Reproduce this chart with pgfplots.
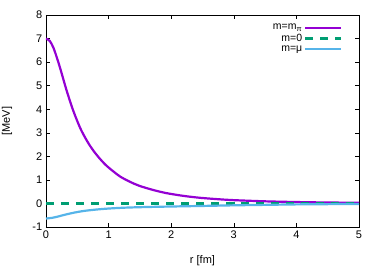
\documentclass[border=0pt]{standalone}
\usepackage{fontspec}
\setmainfont{Liberation Sans}
\usepackage{pgfplots}
\pgfplotsset{compat=1.18}
\definecolor{gpurple}{HTML}{9400D3}
\definecolor{ggreen}{HTML}{009E73}
\definecolor{gblue}{HTML}{56B4E9}
\begin{document}
\fontsize{11bp}{13bp}\selectfont
\begin{tikzpicture}
\useasboundingbox (-46bp,-40bp) rectangle (336bp,227bp);
\begin{axis}[
  scale only axis,
  width=313bp, height=212bp,
  xmin=0, xmax=5, ymin=-1, ymax=8,
  xtick={0,1,2,3,4,5}, ytick={-1,0,...,8},
  tick align=inside,
  tick style={black, thin},
  major tick length=4bp,
  axis line style={black, thin},
  /pgf/number format/assume math mode=true,
  ticklabel style={font=\fontsize{11bp}{13bp}\selectfont},
  xlabel={r [fm]}, ylabel={[MeV]},
  xlabel style={at={(axis description cs:0.5,0)}, anchor=north, yshift=-25bp},
  ylabel style={at={(axis description cs:0,0.5)}, anchor=south, yshift=30bp},
  legend style={draw=none, fill=none, at={(rel axis cs:1,1)}, anchor=north east,
    xshift=-14bp, yshift=-5bp, font=\fontsize{10.5bp}{12bp}\selectfont,
    row sep=-1.5bp},
  legend cell align=right,
  legend plot pos=right,
  legend image code/.code={\draw[#1] (0cm,0cm) -- (1.25cm,0cm);},
]
\addplot[draw=gpurple, line width=2.2bp, smooth] coordinates {
(0,7.0) (0.06,6.9) (0.117,6.62) (0.17,6.22) (0.223,5.77) (0.33,4.79) (0.435,3.94) (0.54,3.24)
(0.62,2.82) (0.70,2.46) (0.78,2.16) (0.86,1.90) (0.94,1.67) (1.02,1.48) (1.18,1.15) (1.34,0.92)
(1.49,0.75) (1.7,0.58) (1.92,0.44) (2.2,0.32) (2.46,0.24) (2.75,0.18) (3.0,0.14)
(3.5,0.09) (4.0,0.06) (4.5,0.04) (5.0,0.03)
};
\addlegendentry{m=m\textsubscript{π}}
\addplot[draw=ggreen, line width=2.2bp, dash pattern=on 8bp off 7bp] coordinates {(0,0) (1,0) (2,0) (3,0) (4,0) (5,0)};
\addlegendentry{m=0}
\addplot[draw=gblue, line width=2.2bp, smooth] coordinates {
(0,-0.64) (0.1,-0.61) (0.2,-0.55) (0.3,-0.48) (0.45,-0.39) (0.6,-0.32) (0.8,-0.26) (0.98,-0.22)
(1.25,-0.18) (1.56,-0.155) (2.0,-0.13) (2.52,-0.105) (3.0,-0.08) (3.5,-0.06) (4.0,-0.04) (4.5,-0.03) (5.0,-0.02)
};
\addlegendentry{m=μ}
\end{axis}
\end{tikzpicture}
\end{document}
